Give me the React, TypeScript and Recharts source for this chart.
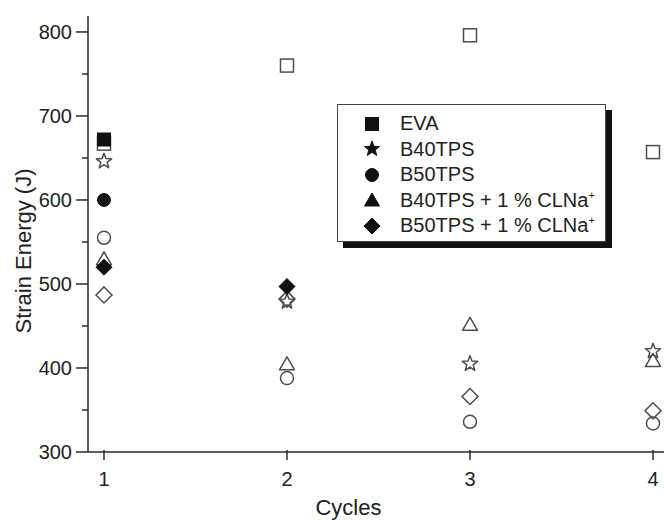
import React from 'react';
import { ScatterChart, Scatter, XAxis, YAxis } from 'recharts';

// cycles on the x axis
const cycles = [1, 2, 3, 4];

// open (hollow) markers, one value per cycle
const evaOpen = [667, 760, 796, 657];
const b40Open = [646, 479, 405, 420];
const b50Open = [555, 388, 336, 334];
const b40ClOpen = [530, 405, 452, 409];
const b50ClOpen = [487, 482, 366, 349];

// filled markers, only where they show
const evaFilledCycles = [1];
const evaFilled = [672];
const b50FilledCycles = [1];
const b50Filled = [600];
const b50ClFilledCycles = [1, 2];
const b50ClFilled = [520, 497];

const yTicks = [300, 350, 400, 450, 500, 550, 600, 650, 700, 750, 800];

const legendItems = [
  { kind: 'square', label: 'EVA', sup: '' },
  { kind: 'star', label: 'B40TPS', sup: '' },
  { kind: 'circle', label: 'B50TPS', sup: '' },
  { kind: 'triangle', label: 'B40TPS + 1 % CLNa', sup: '+' },
  { kind: 'diamond', label: 'B50TPS + 1 % CLNa', sup: '+' },
];

const FONT = '"Liberation Sans", Arial, sans-serif';
const AXIS = '#2a2a2a';
const OPEN = '#4d4d4d';
const SOLID = '#111';

const toPoints = (xs: number[], ys: number[]) => xs.map((x, i) => ({ x, y: ys[i] }));

const starPath = (cx: number, cy: number, r: number) => {
  const pts: string[] = [];
  for (let i = 0; i < 10; i++) {
    const rad = i % 2 === 0 ? r : r * 0.42;
    const a = -Math.PI / 2 + (i * Math.PI) / 5;
    pts.push(`${cx + rad * Math.cos(a)},${cy + rad * Math.sin(a)}`);
  }
  return pts.join(' ');
};

const drawMarker = (kind: string, filled: boolean, cx: number, cy: number) => {
  const fill = filled ? SOLID : 'none';
  const stroke = filled ? SOLID : OPEN;
  const sw = filled ? 1 : 1.5;
  switch (kind) {
    case 'square':
      return <rect x={cx - 6.5} y={cy - 6.5} width={13} height={13} fill={fill} stroke={stroke} strokeWidth={sw} />;
    case 'star':
      return <polygon points={starPath(cx, cy, 8)} fill={fill} stroke={stroke} strokeWidth={sw} strokeLinejoin="round" />;
    case 'circle':
      return <circle cx={cx} cy={cy} r={6.5} fill={fill} stroke={stroke} strokeWidth={sw} />;
    case 'triangle':
      return (
        <polygon
          points={`${cx},${cy - 7} ${cx - 7.5},${cy + 6} ${cx + 7.5},${cy + 6}`}
          fill={fill}
          stroke={stroke}
          strokeWidth={sw}
          strokeLinejoin="round"
        />
      );
    default:
      return (
        <polygon
          points={`${cx},${cy - 8} ${cx + 8},${cy} ${cx},${cy + 8} ${cx - 8},${cy}`}
          fill={fill}
          stroke={stroke}
          strokeWidth={sw}
        />
      );
  }
};

const shapeOf = (kind: string, filled: boolean) => (props: any) => drawMarker(kind, filled, props.cx, props.cy);

const YTick = (props: any) => {
  const { x, y, payload } = props;
  const major = payload.value % 100 === 0;
  return (
    <g>
      <line x1={x - (major ? 12 : 6)} x2={x} y1={y} y2={y} stroke={AXIS} strokeWidth={1.5} />
      {major && (
        <text x={x - 16} y={y + 7} textAnchor="end" fontSize={20} fontFamily={FONT} fill="#222">
          {payload.value}
        </text>
      )}
    </g>
  );
};

const XTick = (props: any) => {
  const { x, y, payload } = props;
  return (
    <g>
      <line x1={x} x2={x} y1={y - 2} y2={y + 8} stroke={AXIS} strokeWidth={1.5} />
      <text x={x} y={y + 34} textAnchor="middle" fontSize={20} fontFamily={FONT} fill="#222">
        {payload.value}
      </text>
    </g>
  );
};

const YTitle = (props: any) => {
  const { viewBox } = props;
  const cx = viewBox.x + 31;
  const cy = viewBox.y + viewBox.height / 2 + 17;
  return (
    <text x={cx} y={cy} transform={`rotate(-90 ${cx} ${cy})`} textAnchor="middle" fontSize={22} fontFamily={FONT} fill="#222">
      Strain Energy (J)
    </text>
  );
};

const XTitle = (props: any) => {
  const { viewBox } = props;
  const cx = viewBox.x + viewBox.width / 2 - 30;
  return (
    <text x={cx} y={515} textAnchor="middle" fontSize={22} fontFamily={FONT} fill="#222">
      Cycles
    </text>
  );
};

const LegendBox = () => (
  <div
    style={{
      position: 'absolute',
      left: 337,
      top: 104,
      width: 269,
      height: 138,
      border: '1px solid #444',
      background: '#fff',
      boxShadow: '6px 6px 0 #111',
      fontFamily: FONT,
      fontSize: 20,
      color: '#222',
      paddingTop: 6,
      boxSizing: 'border-box',
    }}
  >
    {legendItems.map((item) => (
      <div key={item.label} style={{ display: 'flex', alignItems: 'center', height: 25.5 }}>
        <svg width={60} height={24} style={{ flex: 'none' }}>
          {drawMarker(item.kind, true, 34, 12)}
        </svg>
        <span style={{ marginLeft: 2, whiteSpace: 'nowrap' }}>
          {item.label}
          {item.sup && <sup style={{ fontSize: 11 }}>{item.sup}</sup>}
        </span>
      </div>
    ))}
  </div>
);

export default function App() {
  return (
    <div style={{ position: 'absolute', left: 0, top: 0, width: 664, height: 520, overflow: 'hidden', background: '#fff' }}>
      <ScatterChart width={700} height={520} margin={{ top: 16, right: 31, bottom: 0, left: 0 }}>
        <XAxis
          dataKey="x"
          type="number"
          domain={[0.9126, 4.0874]}
          ticks={cycles}
          tick={<XTick />}
          tickLine={false}
          tickSize={0}
          tickMargin={0}
          height={68}
          axisLine={{ stroke: AXIS, strokeWidth: 1.5 }}
          label={<XTitle />}
          allowDataOverflow
        />
        <XAxis
          xAxisId="top"
          orientation="top"
          type="number"
          domain={[0.9126, 4.0874]}
          tick={false}
          tickLine={false}
          height={0}
          axisLine={{ stroke: AXIS, strokeWidth: 1.5 }}
        />
        <YAxis
          dataKey="y"
          type="number"
          domain={[300, 819]}
          ticks={yTicks}
          tick={<YTick />}
          tickLine={false}
          tickSize={0}
          tickMargin={0}
          width={88}
          axisLine={{ stroke: AXIS, strokeWidth: 1.5 }}
          label={<YTitle />}
          allowDataOverflow
        />
        <Scatter name="EVA open" data={toPoints(cycles, evaOpen)} shape={shapeOf('square', false)} isAnimationActive={false} />
        <Scatter name="B40TPS open" data={toPoints(cycles, b40Open)} shape={shapeOf('star', false)} isAnimationActive={false} />
        <Scatter name="B50TPS open" data={toPoints(cycles, b50Open)} shape={shapeOf('circle', false)} isAnimationActive={false} />
        <Scatter name="B40TPS CLNa open" data={toPoints(cycles, b40ClOpen)} shape={shapeOf('triangle', false)} isAnimationActive={false} />
        <Scatter name="B50TPS CLNa open" data={toPoints(cycles, b50ClOpen)} shape={shapeOf('diamond', false)} isAnimationActive={false} />
        <Scatter name="EVA" data={toPoints(evaFilledCycles, evaFilled)} shape={shapeOf('square', true)} isAnimationActive={false} />
        <Scatter name="B50TPS" data={toPoints(b50FilledCycles, b50Filled)} shape={shapeOf('circle', true)} isAnimationActive={false} />
        <Scatter name="B50TPS + 1 % CLNa+" data={toPoints(b50ClFilledCycles, b50ClFilled)} shape={shapeOf('diamond', true)} isAnimationActive={false} />
      </ScatterChart>
      <LegendBox />
    </div>
  );
}
